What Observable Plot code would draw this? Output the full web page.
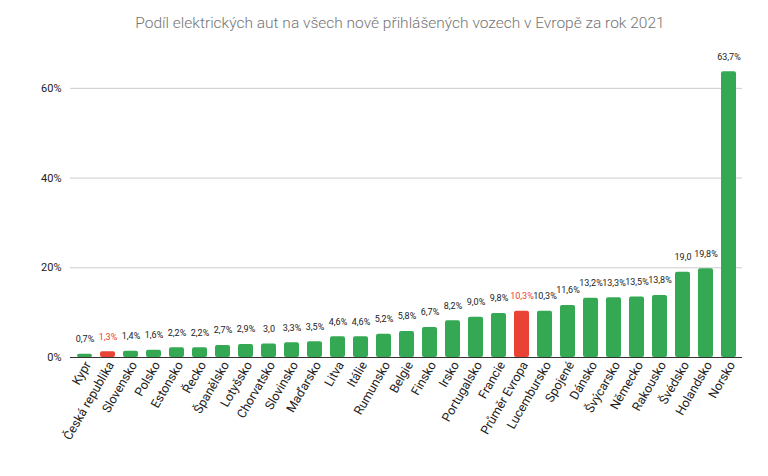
<!DOCTYPE html>
<html>
<head>
<meta charset="utf-8">
<script src="https://cdn.jsdelivr.net/npm/d3@7"></script>
<script src="https://cdn.jsdelivr.net/npm/@observablehq/plot@0.6"></script>
<style>
  html, body { margin: 0; padding: 0; background: #fff; }
  #title { height: 40px; width: 768px; text-align: center; font: 300 15.5px Roboto, sans-serif; color: #757575; line-height: 46px; padding-left: 32px; box-sizing: border-box; }
</style>
</head>
<body>
<div id="title">Podíl elektrických aut na všech nově přihlášených vozech v Evropě za rok 2021</div>
<div id="chart"></div>
<script>
const countries = ["Kypr","Česká republika","Slovensko","Polsko","Estonsko","Řecko","Španělsko","Lotyšsko","Chorvatsko","Slovinsko","Maďarsko","Litva","Itálie","Rumunsko","Belgie","Finsko","Irsko","Portugalsko","Francie","Průměr Evropa","Lucembursko","Spojené","Dánsko","Švýcarsko","Německo","Rakousko","Švédsko","Holandsko","Norsko"];
const shares = [0.7,1.3,1.4,1.6,2.2,2.2,2.7,2.9,3.0,3.3,3.5,4.6,4.6,5.2,5.8,6.7,8.2,9.0,9.8,10.3,10.3,11.6,13.2,13.3,13.5,13.8,19.0,19.8,63.7];
const valueLabels = ["0,7%","1,3%","1,4%","1,6%","2,2%","2,2%","2,7%","2,9%","3,0","3,3%","3,5%","4,6%","4,6%","5,2%","5,8%","6,7%","8,2%","9,0%","9,8%","10,3%","10,3%","11,6%","13,2%","13,3%","13,5%","13,8%","19,0","19,8%","63,7%"];
const highlighted = ["Česká republika","Průměr Evropa"];
const yTicks = [0, 20, 40, 60];

const data = countries.map((c, i) => ({country: c, share: shares[i], label: valueLabels[i], hl: highlighted.includes(c)}));

const chart = Plot.plot({
  width: 768,
  height: 436,
  marginLeft: 70,
  marginRight: 26,
  marginTop: 3,
  marginBottom: 119,
  style: {fontFamily: "Roboto, sans-serif", color: "#222"},
  x: {domain: countries, paddingInner: 0.35, paddingOuter: 0.2, label: null},
  y: {domain: [0, 70], label: null},
  marks: [
    Plot.gridY(yTicks, {stroke: "#cccccc", strokeOpacity: 1}),
    Plot.axisY(yTicks, {tickSize: 0, tickPadding: 9, fontSize: 11, tickFormat: d => d + "%"}),
    Plot.axisX({tickSize: 0, tickPadding: 5, tickRotate: -60, fontSize: 12.5, fill: "#222", dx: 3}),
    Plot.barY(data, {x: "country", y: "share", fill: d => d.hl ? "#ea4335" : "#34a853", rx: 2}),
    Plot.ruleY([0], {stroke: "#333"}),
    Plot.text(data, {x: "country", y: "share", text: "label", dy: -15, fontSize: 9, fill: d => d.hl ? "#ea4335" : "#222"})
  ]
});
document.getElementById("chart").appendChild(chart);
</script>
</body>
</html>
